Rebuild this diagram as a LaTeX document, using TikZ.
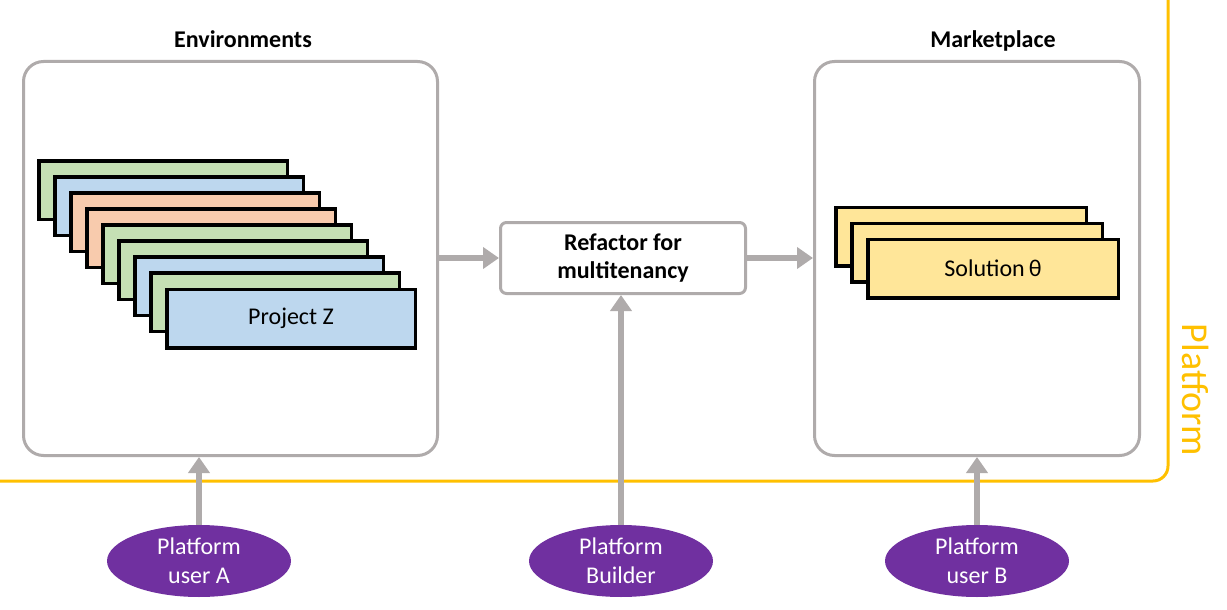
\documentclass[tikz,border=0pt]{standalone}
\usepackage{fontspec}
\setmainfont{Carlito}
\usetikzlibrary{arrows.meta,shapes.geometric}
\definecolor{boxgray}{HTML}{AFABAB}
\definecolor{cgreen}{HTML}{C5E0B4}
\definecolor{cblue}{HTML}{BDD7EE}
\definecolor{corange}{HTML}{F8CBAD}
\definecolor{cyellow}{HTML}{FFE699}
\definecolor{plat}{HTML}{FFC000}
\definecolor{purp}{HTML}{7030A0}
\tikzset{
  container/.style={draw=boxgray, line width=3pt, rounded corners=20pt, minimum width=#1, minimum height=394pt, inner sep=0pt},
  card/.style={draw=black, line width=3.5pt, fill=#1, minimum width=248.5pt, minimum height=58.5pt, inner sep=0pt, font=\fontsize{24}{28}\selectfont},
  title/.style={font=\bfseries\fontsize{24}{28}\selectfont, anchor=base},
  actor/.style={ellipse, fill=purp, minimum width=184pt, minimum height=72pt, inner sep=0pt, text=white, align=center, font=\fontsize{24}{29}\selectfont},
  garrow/.style={draw=boxgray, line width=6pt, -{Triangle[length=16pt,width=21pt]}},
}
\begin{document}
\begin{tikzpicture}[x=1pt,y=-1pt]
\useasboundingbox (0,0) rectangle (1227,610);
% platform frame
\draw[plat, line width=3pt, rounded corners=15pt] (0,481) -- (1168,481) -- (1168,0);
\node[rotate=-90, text=plat, font=\fontsize{38}{44}\selectfont] (platlbl) at (1196,390) {Platform};
% containers
\node[container=414pt] (env) at (230.5,258.5) {};
\node[title] (envt) at (243,48) {Environments};
\node[container=325pt] (market) at (977,258.5) {};
\node[title] (markt) at (993,48) {Marketplace};
% project cards
\node[card=cgreen]  (p1) at (163,190) {};
\node[card=cblue]   (p2) at (179,206) {};
\node[card=corange] (p3) at (195,222) {};
\node[card=corange] (p4) at (211,238) {};
\node[card=cgreen]  (p5) at (227,254) {};
\node[card=cgreen]  (p6) at (243,270) {};
\node[card=cblue]   (p7) at (259,286) {};
\node[card=cgreen]  (p8) at (275,302) {};
\node[card=cblue]   (p9) at (291,318.5) {Project Z};
% solution cards
\node[card=cyellow, minimum width=250.5pt] (s1) at (961,236.5) {};
\node[card=cyellow, minimum width=250.5pt] (s2) at (977,252.5) {};
\node[card=cyellow, minimum width=250.5pt] (s3) at (993,268.5) {Solution\,θ};
% refactor
\node[draw=boxgray, line width=3pt, rounded corners=6pt, minimum width=245pt, minimum height=71pt, inner sep=0pt, align=center, font=\bfseries\fontsize{24}{28}\selectfont] (ref) at (623,258) {Refactor for\\multitenancy};
% actors
\node[actor] (ua) at (199,561) {Platform\\user A};
\node[actor] (pb) at (621,561) {Platform\\Builder};
\node[actor] (ub) at (977,561) {Platform\\user B};
% arrows
\draw[garrow] (env.east |- ref.west) -- (ref.west);
\draw[garrow] (ref.east) -- (ref.east -| market.west);
\draw[garrow] (ua.north) -- (ua.north |- env.south);
\draw[garrow] (pb.north) -- (pb.north |- ref.south);
\draw[garrow] (ub.north) -- (ub.north |- market.south);
\end{tikzpicture}
\end{document}
